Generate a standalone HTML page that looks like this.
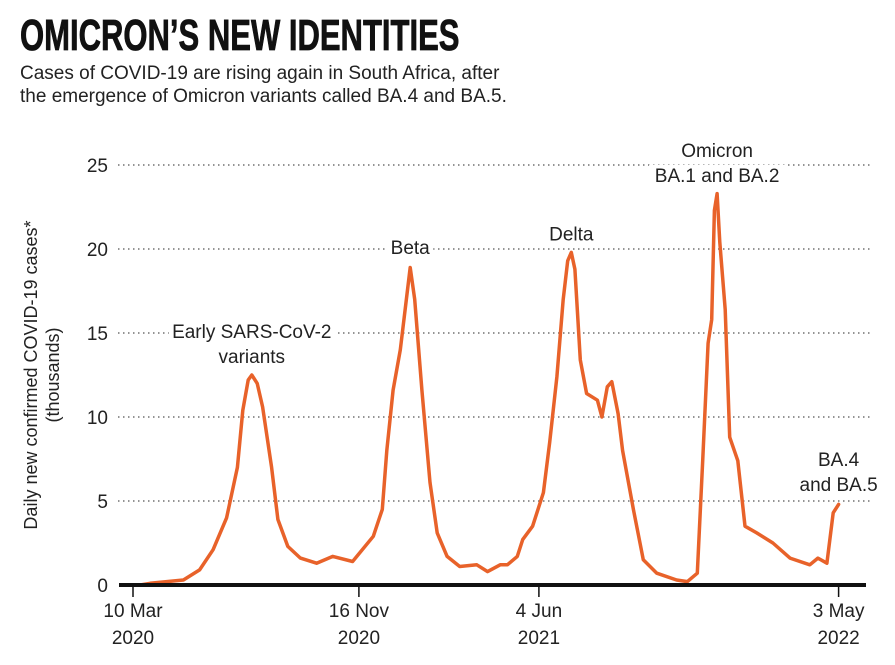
<!DOCTYPE html>
<html><head><meta charset="utf-8">
<style>
body{margin:0;background:#fff;width:895px;height:665px;overflow:hidden;font-family:"Liberation Sans",sans-serif;color:#222}
#title{position:absolute;left:20px;top:12px;font-family:"Liberation Sans Narrow","Liberation Sans",sans-serif;font-weight:bold;font-size:44px;letter-spacing:0px;color:#111;transform:scaleX(0.705);transform-origin:left top;margin:0;line-height:48px;-webkit-text-stroke:0.8px #111}
#sub{position:absolute;left:20px;top:62px;font-size:19px;line-height:23px;color:#222;margin:0}
svg{position:absolute;left:0;top:0}
</style></head><body>
<h1 id="title">OMICRON’S NEW IDENTITIES</h1>
<p id="sub">Cases of COVID-19 are rising again in South Africa, after<br>the emergence of Omicron variants called BA.4 and BA.5.</p>
<svg id="chart" width="895" height="665"></svg>
<script>
const days=[0,8,19,56,74,89,104,116,122,128,132,138,144,154,161,172,186,204,222,244,267,277,282,289,297,308,313,321,330,338,349,363,382,394,408,416,427,433,444,456,463,471,478,483,487,491,497,504,516,521,527,532,539,544,556,567,582,604,616,627,633,639,643,646,649,652,658,663,672,680,693,711,730,752,761,771,778,784];
const cases=[0,0,0.1,0.3,0.9,2.1,4.0,7.0,10.4,12.2,12.5,12.0,10.6,7.0,3.9,2.3,1.6,1.3,1.7,1.4,2.9,4.5,8.0,11.6,14.0,18.9,17.0,11.6,6.1,3.1,1.7,1.1,1.2,0.8,1.2,1.2,1.7,2.7,3.5,5.5,8.5,12.4,17.0,19.3,19.8,18.8,13.4,11.4,11.0,10.0,11.8,12.1,10.2,8.0,4.5,1.5,0.7,0.3,0.2,0.7,7.4,14.4,15.8,22.3,23.3,20.4,16.4,8.8,7.4,3.5,3.1,2.5,1.6,1.2,1.6,1.3,4.3,4.8];
const yTicks=[0,5,10,15,20,25];
const xTickDays=[0,251,451,784];
const xTickLine1=["10 Mar","16 Nov","4 Jun","3 May"];
const xTickLine2=["2020","2020","2021","2022"];
const annText=[["Early SARS-CoV-2","variants"],["Beta"],["Delta"],["Omicron","BA.1 and BA.2"],["BA.4","and BA.5"]];
const annDay=[132,308,487,649,784];
const annVal=[13.2,19.7,20.5,24.0,5.6];

const svg=document.getElementById('chart');
const NS='http://www.w3.org/2000/svg';
const X=d=>133+d*0.9;
const Y=v=>585-v*16.8;
function mk(t,a,p){const e=document.createElementNS(NS,t);for(const k in a)e.setAttribute(k,a[k]);(p||svg).appendChild(e);return e;}

yTicks.forEach(v=>{
  if(v>0){const g=mk('line',{x1:118,x2:870,y1:Y(v),y2:Y(v),stroke:'#555','stroke-width':1.3,'stroke-dasharray':'1.5 3.5'});
  
  }
  const t=mk('text',{x:108,y:Y(v)+7,'text-anchor':'end','font-size':19,fill:'#222'});
  t.textContent=v;
  
  
});
const yt=mk('text',{transform:'translate(37,375) rotate(-90)','text-anchor':'middle','font-size':18,fill:'#222'});


const s1=mk('tspan',{x:0,dy:0},yt);s1.textContent='Daily new confirmed COVID-19 cases*';
const s2=mk('tspan',{x:0,dy:22},yt);s2.textContent='(thousands)';

annText.forEach((lines,i)=>{
  const n=lines.length;
  lines.forEach((l,j)=>{
    const yy=Y(annVal[i])-(n-1-j)*25;
    const w=l.length*10+6;
    const bg=mk('rect',{x:X(annDay[i])-w/2,y:yy-17,width:w,height:22,fill:'#fff'});
    
    
    const t=mk('text',{x:X(annDay[i]),y:yy,'text-anchor':'middle','font-size':19,fill:'#222'});
    t.textContent=l;
    
    
  });
});

const pts=days.map((d,i)=>X(d).toFixed(1)+','+Y(cases[i]).toFixed(1)).join(' ');
const line=mk('polyline',{points:pts,fill:'none',stroke:'#e8622a','stroke-width':3.5,'stroke-linejoin':'round','stroke-linecap':'round'});



const ax=mk('line',{x1:119,x2:866,y1:585,y2:585,stroke:'#111','stroke-width':4});


xTickDays.forEach((d,i)=>{
  const tk=mk('line',{x1:X(d),x2:X(d),y1:585,y2:597,stroke:'#111','stroke-width':1.5});
  
  
  const t1=mk('text',{x:X(d),y:617,'text-anchor':'middle','font-size':19,fill:'#222'});
  t1.textContent=xTickLine1[i];
  
  
  const t2=mk('text',{x:X(d),y:644,'text-anchor':'middle','font-size':19,fill:'#222'});
  t2.textContent=xTickLine2[i];
  
  
});
</script>
</body></html>
